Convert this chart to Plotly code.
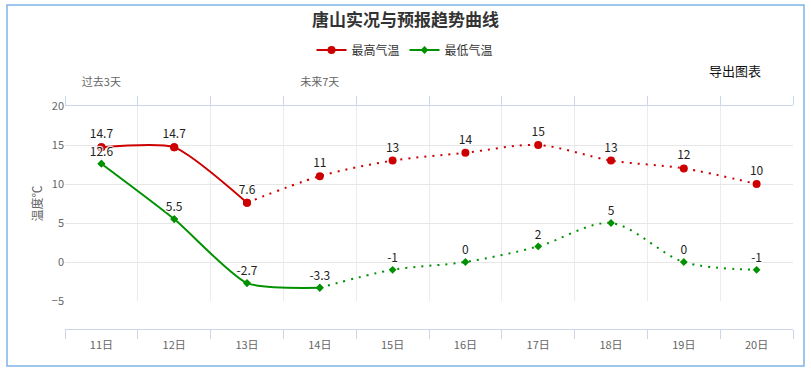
import plotly.graph_objects as go

# ---- data ----
days = ["11日", "12日", "13日", "14日", "15日", "16日", "17日", "18日", "19日", "20日"]
high = [14.7, 14.7, 7.6, 11, 13, 14, 15, 13, 12, 10]
low = [12.6, 5.5, -2.7, -3.3, -1, 0, 2, 5, 0, -1]
high_obs_count = 3   # solid (observed) part of high series
low_obs_count = 4    # solid part of low series
top_labels = ["过去3天", "", "", "未来7天", "", "", "", "", "", ""]

RED = "#CC0000"
GREEN = "#009100"
FONT = "Noto Sans CJK SC, Noto Sans, sans-serif"
W, H = 811, 371
ML, MR, MT, MB = 65, 18, 106, 42
plot_h = H - MT - MB
plot_w = W - ML - MR
ydom0 = 28 / plot_h   # x axis offset below plot area
SMOOTH_SOLID = 0.6
SMOOTH_DOT = 0.9

def lbl(v):
    return f"{v:g}"

fig = go.Figure()

# solid observed parts (legend entries)
fig.add_trace(go.Scatter(
    x=days[:high_obs_count], y=high[:high_obs_count], mode="lines+markers", name="最高气温",
    line=dict(color=RED, width=2, shape="spline", smoothing=SMOOTH_SOLID),
    marker=dict(symbol="circle", size=8, color=RED)))
# dotted forecast part
fig.add_trace(go.Scatter(
    x=days[high_obs_count - 1:], y=high[high_obs_count - 1:], mode="lines",
    line=dict(color=RED, width=2, dash="2px,6px", shape="spline", smoothing=SMOOTH_DOT),
    showlegend=False, hoverinfo="skip"))
fig.add_trace(go.Scatter(
    x=days[:low_obs_count], y=low[:low_obs_count], mode="lines+markers", name="最低气温",
    line=dict(color=GREEN, width=2, shape="spline", smoothing=SMOOTH_SOLID),
    marker=dict(symbol="diamond", size=6, color=GREEN)))
fig.add_trace(go.Scatter(
    x=days[low_obs_count - 1:], y=low[low_obs_count - 1:], mode="lines",
    line=dict(color=GREEN, width=2, dash="2px,6px", shape="spline", smoothing=SMOOTH_DOT),
    showlegend=False, hoverinfo="skip"))

# markers + data labels
for vals, col, sym, sz in ((high, RED, "circle", 8), (low, GREEN, "diamond", 6)):
    fig.add_trace(go.Scatter(
        x=days, y=vals, mode="markers+text", text=[lbl(v) for v in vals],
        textposition="top center",
        textfont=dict(family=FONT, size=12, color="#222",
                      shadow="1px 1px 1px #fff, -1px -1px 1px #fff, 1px -1px 1px #fff, -1px 1px 1px #fff"),
        marker=dict(symbol=sym, size=sz, color=col), showlegend=False, hoverinfo="skip"))

# dummy trace for top axis categories
fig.add_trace(go.Scatter(x=days, y=high, xaxis="x2", mode="markers",
                         marker=dict(opacity=0), showlegend=False, hoverinfo="skip"))

AXC = "#ccd6eb"
fig.update_layout(
    width=W, height=H,
    margin=dict(l=ML, r=MR, t=MT, b=MB, autoexpand=False),
    paper_bgcolor="white", plot_bgcolor="white",
    font=dict(family=FONT, color="#333"),
    title=dict(text="唐山实况与预报趋势曲线", x=0.5, xanchor="center", y=1 - 20 / H, yanchor="middle",
               font=dict(size=17, color="#333", weight="bold")),
    legend=dict(orientation="h", x=(405 - ML) / plot_w, xanchor="center", y=(H - MB - 50) / plot_h,
                yanchor="middle", font=dict(size=12, color="#333"), itemwidth=30, bgcolor="rgba(0,0,0,0)"),
    xaxis=dict(type="category", categoryarray=days, range=[-0.5, 9.5], anchor="free", position=0,
               tickson="boundaries", ticks="outside", ticklen=9, tickcolor=AXC, showline=True, linecolor=AXC,
               showgrid=True, gridcolor="#ececec", tickfont=dict(size=11, color="#666"),
               ticklabelstandoff=6, zeroline=False),
    xaxis2=dict(type="category", categoryarray=days, range=[-0.5, 9.5], overlaying="x", side="top", anchor="y",
                tickson="boundaries", ticks="outside", ticklen=9, tickcolor=AXC, showline=True, linecolor=AXC,
                showgrid=False, tickmode="array", tickvals=days, ticktext=top_labels,
                tickfont=dict(size=11, color="#666"), ticklabelstandoff=15),
    yaxis=dict(domain=[ydom0, 1], range=[-5, 20], dtick=5, tick0=0, showgrid=True, gridcolor="#e6e6e6",
               zeroline=False, showline=False, tickfont=dict(size=11, color="#666"),
               title=dict(text="温度℃", font=dict(size=12, color="#666"), standoff=6)),
    annotations=[dict(text="导出图表", xref="paper", yref="paper",
                      x=(735 - ML) / plot_w, y=(H - MB - 70) / plot_h,
                      xanchor="center", yanchor="middle", showarrow=False,
                      font=dict(size=13, color="#111"))],
    shapes=[dict(type="rect", xref="paper", yref="paper",
                 x0=(7 - ML) / plot_w, x1=(804 - ML) / plot_w,
                 y0=(H - MB - 366) / plot_h, y1=(H - MB - 5) / plot_h,
                 line=dict(color="#7fb3e6", width=1.5), layer="below")],
)

fig.write_html("out.html", config={"displayModeBar": False},
               post_script="document.body.style.margin='0px';document.body.style.overflow='hidden';")
